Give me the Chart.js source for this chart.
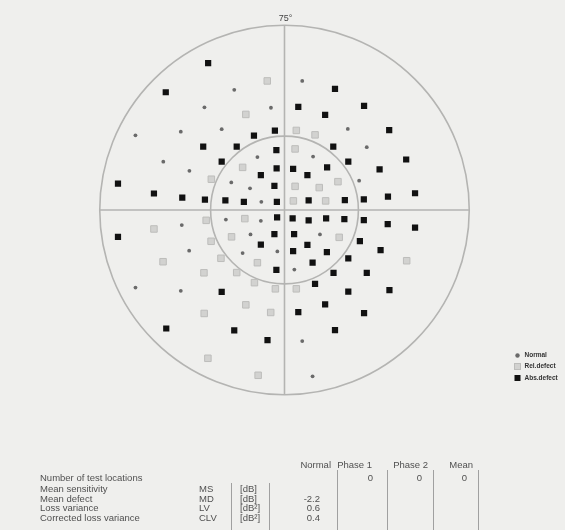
<!DOCTYPE html>
<html>
<head>
<meta charset="utf-8">
<script src="https://cdn.jsdelivr.net/npm/chart.js@4.4.1/dist/chart.umd.min.js"></script>
<style>
  html, body { margin: 0; padding: 0; background: #efefed; }
  #wrap { width: 565px; height: 530px; }
</style>
</head>
<body>
<div id="wrap"><canvas id="field" width="565" height="530"></canvas></div>
<script>
// Test locations in degrees of visual field (x = horizontal, y = vertical)
const normalPoints = [
  [-20.4,48.8],[-32.5,41.7],[-5.5,41.5],[-42.1,31.8],[-25.5,32.8],[-60.5,30.3],[-11.0,21.5],
  [-49.2,19.6],[-38.6,15.9],[-21.6,11.2],[-14.0,8.8],[-9.4,3.3],[7.2,52.4],[25.7,32.9],
  [33.4,25.5],[11.6,21.7],[30.3,11.9],[14.4,-9.9],[4.0,-24.2],[7.2,-53.2],[11.4,-67.5],
  [-23.8,-3.9],[-9.6,-4.4],[-41.7,-6.1],[-13.8,-9.9],[-38.7,-16.5],[-17.0,-17.5],[-2.9,-16.8],
  [-60.5,-31.5],[-42.1,-32.8]
];
const relDefectPoints = [
  [-7.0,52.4],[-15.7,38.8],[-17.0,17.3],[-29.7,12.5],[4.8,32.3],[12.4,30.5],[4.3,24.8],
  [21.7,11.5],[4.3,9.6],[14.1,9.1],[16.7,3.7],[3.6,3.7],[22.2,-11.1],[49.6,-20.6],[4.8,-32.0],
  [-16.1,-3.5],[-31.8,-4.2],[-53.0,-7.7],[-21.5,-10.9],[-29.8,-12.7],[-25.8,-19.6],[-49.3,-21.0],
  [-11.0,-21.4],[-19.4,-25.4],[-32.7,-25.5],[-12.2,-29.5],[-3.7,-32.0],[-15.7,-38.5],
  [-5.6,-41.6],[-32.6,-42.0],[-31.1,-60.2],[-10.7,-67.1]
];
const absDefectPoints = [
  [-31.0,59.6],[-48.2,47.8],[-12.4,30.2],[-3.9,32.2],[-33.0,25.7],[-19.4,25.7],[-3.3,24.3],
  [-25.5,19.6],[-3.2,16.9],[-9.6,14.2],[-4.1,9.8],[-67.6,10.7],[-53.0,6.7],[-41.5,5.0],
  [-32.3,4.2],[-24.0,3.9],[-16.5,3.3],[-3.1,3.3],
  [20.5,49.2],[5.6,41.9],[32.3,42.3],[16.5,38.6],[42.5,32.4],[19.8,25.7],[25.9,19.6],
  [49.4,20.5],[3.5,16.7],[17.3,17.3],[38.6,16.5],[9.3,14.2],[53.0,6.8],[42.0,5.4],
  [32.2,4.3],[24.5,4.0],[9.8,3.9],
  [3.3,-3.4],[9.8,-4.2],[16.9,-3.4],[24.3,-3.7],[32.2,-4.1],[41.9,-5.7],[53.0,-7.2],
  [3.9,-9.8],[30.6,-12.6],[9.3,-14.2],[3.5,-16.7],[17.2,-17.1],[39.0,-16.3],[25.9,-19.6],
  [11.4,-21.4],[19.9,-25.5],[33.4,-25.5],[12.4,-30.0],[25.9,-33.1],[42.6,-32.5],[16.5,-38.3],
  [5.6,-41.5],[32.3,-41.9],[20.5,-48.8],
  [-67.6,-10.9],[-4.1,-9.8],[-9.6,-14.1],[-3.3,-24.3],[-25.5,-33.2],[-48.0,-48.1],
  [-20.4,-48.9],[-6.9,-52.8],[-3.0,-3.0]
];

// Field rings (degrees) and outer label
const ringRadii = [30, 75];
const fieldLimit = 75;
const limitLabel = '75°';

// Legend entries
const legendLabels = ['Normal', 'Rel.defect', 'Abs.defect'];

// Summary table
const tableColumns = ['Normal', 'Phase 1', 'Phase 2', 'Mean'];
const rowLabels = ['Number of test locations', 'Mean sensitivity', 'Mean defect', 'Loss variance', 'Corrected loss variance'];
const rowAbbrev = ['', 'MS', 'MD', 'LV', 'CLV'];
const rowUnits = ['', '[dB]', '[dB]', '[dB²]', '[dB²]'];
const normalColumn = ['', '', '-2.2', '0.6', '0.4'];
const phase1Column = ['0', '', '', '', ''];
const phase2Column = ['0', '', '', '', ''];
const meanColumn = ['0', '', '', '', ''];

const toXY = arr => arr.map(p => ({ x: p[0], y: p[1] }));

const fieldPlugin = {
  id: 'fieldPlugin',
  beforeDraw(chart) {
    const { ctx } = chart;
    ctx.save();
    ctx.fillStyle = '#efefed';
    ctx.fillRect(0, 0, chart.width, chart.height);
    const xs = chart.scales.x, ys = chart.scales.y;
    const cx = xs.getPixelForValue(0), cy = ys.getPixelForValue(0);
    ctx.strokeStyle = '#b4b4b2';
    ctx.lineWidth = 1.6;
    ringRadii.forEach(r => {
      const rp = xs.getPixelForValue(r) - cx;
      ctx.beginPath();
      ctx.arc(cx, cy, rp, 0, Math.PI * 2);
      ctx.stroke();
    });
    ctx.beginPath();
    ctx.moveTo(xs.getPixelForValue(-fieldLimit), cy);
    ctx.lineTo(xs.getPixelForValue(fieldLimit), cy);
    ctx.moveTo(cx, ys.getPixelForValue(fieldLimit));
    ctx.lineTo(cx, ys.getPixelForValue(-fieldLimit));
    ctx.stroke();
    ctx.fillStyle = '#444';
    ctx.font = '9px "Liberation Sans", Arial, sans-serif';
    ctx.textAlign = 'center';
    ctx.textBaseline = 'bottom';
    ctx.fillText(limitLabel, cx + 1, ys.getPixelForValue(fieldLimit) - 2);
    ctx.restore();
  },
  afterDraw(chart) {
    const { ctx } = chart;
    ctx.save();
    // legend
    const ds = chart.data.datasets;
    const lx = 517.5, ly = [355.5, 366.5, 378];
    ctx.font = 'bold 6.5px "Liberation Sans", Arial, sans-serif';
    ctx.textBaseline = 'middle';
    ctx.textAlign = 'left';
    legendLabels.forEach((lab, i) => {
      const d = ds[i];
      ctx.fillStyle = d.backgroundColor;
      ctx.strokeStyle = d.borderColor;
      ctx.lineWidth = d.borderWidth;
      if (d.pointStyle === 'circle') {
        ctx.beginPath(); ctx.arc(lx, ly[i], 2.2, 0, Math.PI * 2); ctx.fill();
      } else {
        ctx.fillRect(lx - 3, ly[i] - 3, 6, 6);
        if (d.borderWidth) ctx.strokeRect(lx - 3, ly[i] - 3, 6, 6);
      }
      ctx.fillStyle = '#333';
      ctx.fillText(lab, lx + 7, ly[i]);
    });

    // summary table
    ctx.font = '9.5px "Liberation Sans", Arial, sans-serif';
    ctx.fillStyle = '#505050';
    ctx.textBaseline = 'middle';
    const colRight = [331, 372, 428, 473];
    ctx.textAlign = 'right';
    tableColumns.forEach((c, i) => ctx.fillText(c, colRight[i], 465));
    const rowY = [478, 489, 499, 508.5, 518];
    const valueRight = [320, 373, 422, 467];
    const cols = [normalColumn, phase1Column, phase2Column, meanColumn];
    rowLabels.forEach((lab, r) => {
      ctx.textAlign = 'left';
      ctx.fillText(lab, 40, rowY[r]);
      ctx.fillText(rowAbbrev[r], 199, rowY[r]);
      ctx.fillText(rowUnits[r], 240, rowY[r]);
      ctx.textAlign = 'right';
      cols.forEach((col, c) => { if (col[r]) ctx.fillText(col[r], valueRight[c], rowY[r]); });
    });
    ctx.strokeStyle = '#a0a0a0';
    ctx.lineWidth = 1;
    [[231, 483], [269, 483], [337, 470], [387, 470], [433, 470], [478, 470]].forEach(([x, y0]) => {
      ctx.beginPath(); ctx.moveTo(x + 0.5, y0); ctx.lineTo(x + 0.5, 530); ctx.stroke();
    });
    ctx.restore();
  }
};

new Chart(document.getElementById('field'), {
  type: 'scatter',
  data: {
    datasets: [
      { label: legendLabels[0], data: toXY(normalPoints), pointStyle: 'circle', pointRadius: 1.9,
        backgroundColor: '#6a6a6a', borderColor: '#6a6a6a', borderWidth: 0 },
      { label: legendLabels[1], data: toXY(relDefectPoints), pointStyle: 'rect', pointRadius: 4.6,
        backgroundColor: '#d2d2d0', borderColor: '#bdbdbb', borderWidth: 1 },
      { label: legendLabels[2], data: toXY(absDefectPoints), pointStyle: 'rect', pointRadius: 4.4,
        backgroundColor: '#111', borderColor: '#111', borderWidth: 0 }
    ]
  },
  options: {
    responsive: false,
    animation: false,
    devicePixelRatio: 1,
    layout: { padding: { left: 99.75, right: 95.75, top: 25.25, bottom: 135.25 } },
    scales: {
      x: { type: 'linear', min: -fieldLimit, max: fieldLimit, display: false },
      y: { type: 'linear', min: -fieldLimit, max: fieldLimit, display: false }
    },
    plugins: { legend: { display: false }, tooltip: { enabled: false } }
  },
  plugins: [fieldPlugin]
});
</script>
</body>
</html>
